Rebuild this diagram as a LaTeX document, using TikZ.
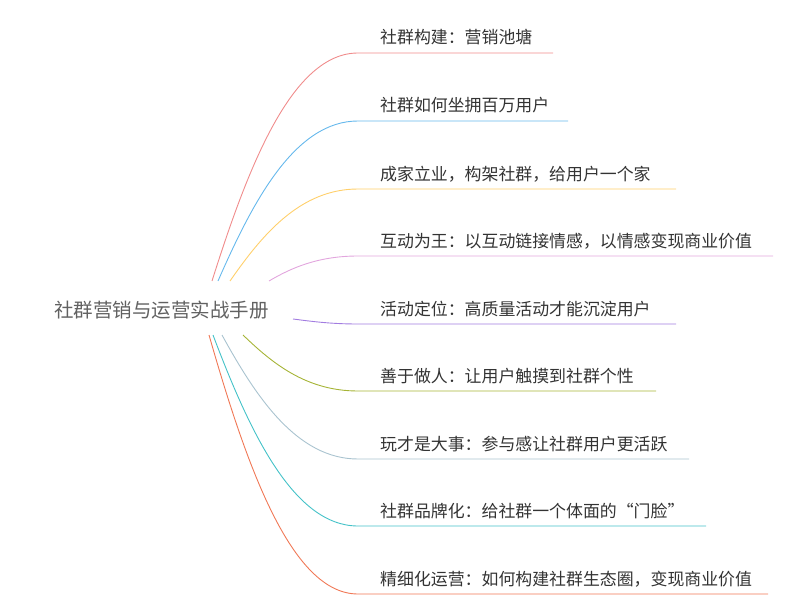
\documentclass[tikz,border=0pt]{standalone}
\usepackage{fontspec}
\setmainfont{Noto Sans CJK SC}
\definecolor{brA}{HTML}{F08C8C}
\definecolor{brB}{HTML}{66B8EC}
\definecolor{brC}{HTML}{FFCF6A}
\definecolor{brD}{HTML}{E2A6DE}
\definecolor{brE}{HTML}{A27CE0}
\definecolor{brF}{HTML}{A6B436}
\definecolor{brG}{HTML}{A9C3CF}
\definecolor{brH}{HTML}{44C2C8}
\definecolor{brI}{HTML}{F07856}
\tikzset{
  branch/.style={line width=0.9pt},
  leaf/.style={anchor=base west, inner sep=0pt, text=black!80,
    font=\fontsize{16.9}{18}\selectfont},
  hub/.style={anchor=base west, inner sep=0pt, text=black!62,
    font=\fontsize{19.5}{21}\selectfont}
}
\begin{document}
\begin{tikzpicture}[x=1pt, y=-1pt]
   \useasboundingbox (0,0) rectangle (800,615);
   \node[hub] (M) at (54,317) {社群营销与运营实战手册};
   % upper half
   \coordinate (S1) at (212,281); \coordinate (U1) at (358,53); \coordinate (E1) at (553,53);
   \draw[branch, brA] (S1) .. controls (248,167) and (292,53) .. (U1) -- (E1);
   \node[leaf] (T1) at (380,44) {社群构建：营销池塘};
   \coordinate (S2) at (218,281); \coordinate (U2) at (358,121); \coordinate (E2) at (568,121);
   \draw[branch, brB] (S2) .. controls (253,201) and (295,121) .. (U2) -- (E2);
   \node[leaf] (T2) at (380,112) {社群如何坐拥百万用户};
   \coordinate (S3) at (230,281); \coordinate (U3) at (358,189); \coordinate (E3) at (676,189);
   \draw[branch, brC] (S3) .. controls (262,235) and (300,189) .. (U3) -- (E3);
   \node[leaf] (T3) at (380,180) {成家立业，构架社群，给用户一个家};
   \coordinate (S4) at (269,281); \coordinate (U4) at (358,256); \coordinate (E4) at (773,256);
   \draw[branch, brD] (S4) .. controls (291,268) and (318,256) .. (U4) -- (E4);
   \node[leaf] (T4) at (380,247) {互动为王：以互动链接情感，以情感变现商业价值};
   % lower half
   \coordinate (S5) at (293,319); \coordinate (U5) at (358,324); \coordinate (E5) at (676,324);
   \draw[branch, brE] (S5) .. controls (309,321) and (329,324) .. (U5) -- (E5);
   \node[leaf] (T5) at (380,315) {活动定位：高质量活动才能沉淀用户};
   \coordinate (S6) at (243,335); \coordinate (U6) at (358,391); \coordinate (E6) at (656,391);
   \draw[branch, brF] (S6) .. controls (272,363) and (306,391) .. (U6) -- (E6);
   \node[leaf] (T6) at (380,382) {善于做人：让用户触摸到社群个性};
   \coordinate (S7) at (222,335); \coordinate (U7) at (358,459); \coordinate (E7) at (689,459);
   \draw[branch, brG] (S7) .. controls (256,397) and (297,459) .. (U7) -- (E7);
   \node[leaf] (T7) at (380,450) {玩才是大事：参与感让社群用户更活跃};
   \coordinate (S8) at (213,335); \coordinate (U8) at (358,526); \coordinate (E8) at (706,526);
   \draw[branch, brH] (S8) .. controls (249,430) and (293,526) .. (U8) -- (E8);
   \node[leaf] (T8) at (380,517) {社群品牌化：给社群一个体面的“门脸”};
   \coordinate (S9) at (209,335); \coordinate (U9) at (358,594); \coordinate (E9) at (768,594);
   \draw[branch, brI] (S9) .. controls (246,464) and (291,594) .. (U9) -- (E9);
   \node[leaf] (T9) at (380,585) {精细化运营：如何构建社群生态圈，变现商业价值};
\end{tikzpicture}
\end{document}
